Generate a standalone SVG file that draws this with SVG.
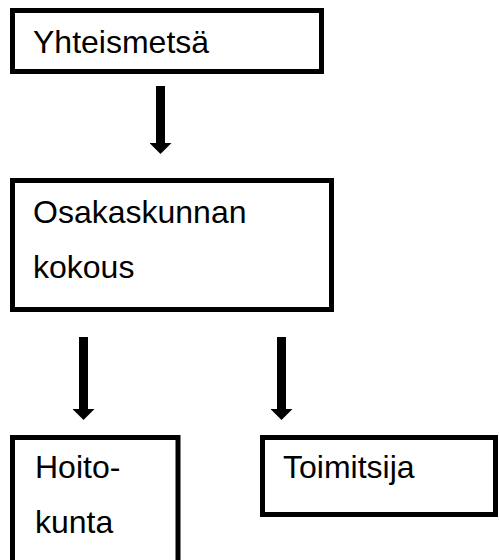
<svg xmlns="http://www.w3.org/2000/svg" width="499" height="560" viewBox="0 0 499 560">
  <defs>
    <style>
      .box { fill: #ffffff; stroke: #000000; stroke-width: 5; }
      .lbl { font-family: "Liberation Sans", Arial, sans-serif; font-size: 32px; fill: #000000; }
      .conn { stroke: #000000; stroke-width: 9; fill: none; marker-end: url(#head); }
    </style>
    <marker id="head" markerUnits="userSpaceOnUse" viewBox="0 0 11 22" markerWidth="11" markerHeight="22" refX="0" refY="11" orient="auto">
      <path d="M0,0 L11,11 L0,22 Z" fill="#000000"/>
    </marker>
  </defs>
  <rect width="499" height="560" fill="#ffffff"/>
  <g id="connectors">
    <line class="conn" x1="160.5" y1="86" x2="160.5" y2="143"/>
    <line class="conn" x1="83.5" y1="337" x2="83.5" y2="409"/>
    <line class="conn" x1="281.5" y1="337" x2="281.5" y2="409"/>
  </g>
  <g id="yhteismetsa">
    <rect class="box" x="12.5" y="10.5" width="309" height="61"/>
    <text class="lbl" x="33" y="53">Yhteismetsä</text>
  </g>
  <g id="osakaskunnan-kokous">
    <rect class="box" x="12.5" y="180.5" width="319" height="129"/>
    <text class="lbl" x="33" y="223">Osakaskunnan</text>
    <text class="lbl" x="33" y="278">kokous</text>
  </g>
  <g id="hoitokunta">
    <rect class="box" x="12.5" y="437.5" width="165.5" height="140"/>
    <text class="lbl" x="35" y="478">Hoito-</text>
    <text class="lbl" x="35" y="533">kunta</text>
  </g>
  <g id="toimitsija">
    <rect class="box" x="262.5" y="437.5" width="233" height="77"/>
    <text class="lbl" x="283" y="478">Toimitsija</text>
  </g>
</svg>
